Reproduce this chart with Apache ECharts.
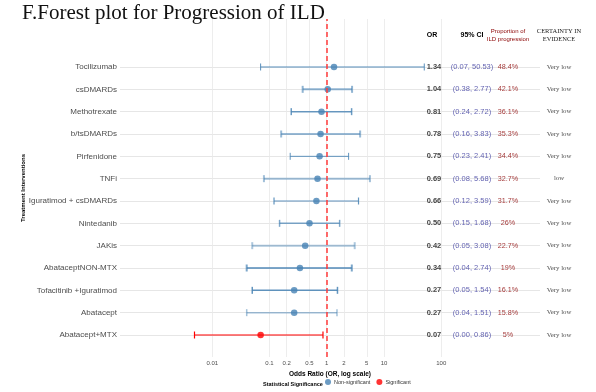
<!DOCTYPE html>
<html>
<head>
<meta charset="utf-8">
<script src="https://cdn.jsdelivr.net/npm/echarts@6/dist/echarts.min.js"></script>
<style>
  html, body { margin: 0; padding: 0; background: #fff; }
  #main { width: 596px; height: 392px; }
</style>
</head>
<body>
<div id="main"></div>
<script>
// rows listed top to bottom, as in the figure
var treatments = ['Tocilizumab', 'csDMARDs', 'Methotrexate', 'b/tsDMARDs', 'Pirfenidone', 'TNFi',
  'Iguratimod + csDMARDs', 'Nintedanib', 'JAKis', 'AbataceptNON-MTX', 'Tofacitinib +Iguratimod',
  'Abatacept', 'Abatacept+MTX'];
var oddsRatio = [1.34, 1.04, 0.81, 0.78, 0.75, 0.69, 0.66, 0.50, 0.42, 0.34, 0.27, 0.27, 0.07];
var ciLower = [0.07, 0.38, 0.24, 0.16, 0.23, 0.08, 0.12, 0.15, 0.05, 0.04, 0.05, 0.04, 0.0049];
var ciUpper = [50.53, 2.77, 2.72, 3.83, 2.41, 5.68, 3.59, 1.68, 3.08, 2.74, 1.54, 1.51, 0.86];
var progression = ['48.4%', '42.1%', '36.1%', '35.3%', '34.4%', '32.7%', '31.7%', '26%', '22.7%',
  '19%', '16.1%', '15.8%', '5%'];
var certainty = ['Very low', 'Very low', 'Very low', 'Very low', 'Very low', 'low', 'Very low',
  'Very low', 'Very low', 'Very low', 'Very low', 'Very low', 'Very low'];
var significant = [false, false, false, false, false, false, false, false, false, false, false, false, true];
var xTicks = [0.01, 0.1, 0.2, 0.5, 1, 2, 5, 10, 100];

// look of each CI bar (opacity / width)
var barAlpha = [0.9, 0.6, 0.8, 0.55, 0.85, 0.5, 0.85, 0.7, 0.45, 0.7, 0.85, 0.5, 1];
var barWidth = [1, 2, 1.5, 2, 1, 2, 1.2, 1.5, 2, 2, 1.5, 1.5, 1.2];

var BLUE = '#4682B4', RED = '#FF0000';
var SANS = '"Liberation Sans", Arial, sans-serif';
var SERIF = '"Liberation Serif", "DejaVu Serif", serif';

var n = treatments.length;
function rowOf(i) { return n - 1 - i; }
function lg(v) { return Math.log10(v); }

var barData = [], nsPts = [], sPts = [], orText = [], ciText = [], propText = [], certText = [];
treatments.forEach(function (t, i) {
  var r = rowOf(i);
  barData.push([lg(ciLower[i]), lg(ciUpper[i]), r, i]);
  (significant[i] ? sPts : nsPts).push([lg(oddsRatio[i]), r]);
  orText.push({ value: [1.873, r], label: { formatter: oddsRatio[i].toFixed(2) } });
  ciText.push({ value: [2.537, r], label: { formatter: '(' + ciLower[i].toFixed(2) + ', ' + ciUpper[i].toFixed(2) + ')' } });
  propText.push({ value: [3.166, r], label: { formatter: progression[i] } });
  certText.push({ value: [4.057, r], label: { formatter: certainty[i] } });
});

function textSeries(data, style) {
  return {
    type: 'scatter', data: data, symbolSize: 0, clip: false, silent: true,
    label: Object.assign({ show: true, position: 'inside', align: 'center', verticalAlign: 'middle' }, style)
  };
}

var myChart = echarts.init(document.getElementById('main'));
var option = {
  animation: false,
  grid: { left: 120, right: 56, top: 19, bottom: 35 },
  xAxis: {
    type: 'value', min: -3.611, max: 3.725,
    name: 'Odds Ratio (OR, log scale)', nameLocation: 'middle', nameGap: 12,
    nameTextStyle: { fontFamily: SANS, fontSize: 6.5, fontWeight: 'bold', color: '#000' },
    axisLine: { show: false },
    axisTick: { show: false, customValues: xTicks.map(lg) },
    axisLabel: {
      customValues: xTicks.map(lg), margin: 3, fontFamily: SANS, fontSize: 6, color: '#4d4d4d',
      formatter: function (v) { return String(+Math.pow(10, v).toPrecision(2)); }
    },
    splitLine: { show: true, lineStyle: { color: '#e8e8e8', width: 0.8 } }
  },
  yAxis: {
    type: 'value', min: -0.985, max: 14.149,
    name: 'Treatment Interventions', nameLocation: 'middle', nameGap: 94, nameRotate: 90,
    nameMoveOverlap: false,
    nameTextStyle: { fontFamily: SANS, fontSize: 6, fontWeight: 'bold', color: '#000' },
    axisLine: { show: false },
    axisTick: { show: false, customValues: treatments.map(function (t, i) { return rowOf(i); }) },
    axisLabel: {
      customValues: treatments.map(function (t, i) { return rowOf(i); }),
      margin: 3, fontFamily: SANS, fontSize: 8, color: '#4d4d4d',
      formatter: function (v) { return treatments[n - 1 - Math.round(v)]; }
    },
    splitLine: { show: true, lineStyle: { color: '#e6e6e6', width: 1 } }
  },
  legend: {
    left: 320, bottom: 2, itemWidth: 6, itemHeight: 6, itemGap: 6,
    icon: 'circle', textStyle: { fontFamily: SANS, fontSize: 5.5, color: '#333', padding: [0, 0, 0, -2] },
    data: ['Non-significant', 'Significant']
  },
  graphic: [
    { type: 'text', left: 22, top: 3, style: { text: 'F.Forest plot for Progression of ILD', font: '21px ' + SERIF, fill: '#111' } },
    { type: 'text', left: 263, top: 381, style: { text: 'Statistical Significance', font: 'bold 5.5px ' + SANS, fill: '#000' } },
    { type: 'text', x: 432, y: 35, style: { text: 'OR', font: 'bold 7px ' + SANS, fill: '#000', align: 'center', verticalAlign: 'middle' } },
    { type: 'text', x: 472, y: 35, style: { text: '95% CI', font: 'bold 7px ' + SANS, fill: '#000', align: 'center', verticalAlign: 'middle' } },
    { type: 'text', x: 508, y: 35, style: { text: 'Proportion of\nILD progression', font: '6px ' + SANS, fill: '#8b0000', align: 'center', verticalAlign: 'middle', lineHeight: 8 } },
    { type: 'text', x: 559, y: 35, style: { text: 'CERTAINTY IN\nEVIDENCE', font: '6.5px ' + SERIF, fill: '#222', align: 'center', verticalAlign: 'middle', lineHeight: 8 } }
  ],
  series: [
    {
      type: 'custom', name: 'ci', silent: true, data: barData,
      renderItem: function (params, api) {
        var i = api.value(3);
        var a = api.coord([api.value(0), api.value(2)]);
        var b = api.coord([api.value(1), api.value(2)]);
        var style = { stroke: significant[i] ? RED : BLUE, lineWidth: barWidth[i], opacity: barAlpha[i] };
        return {
          type: 'group', children: [
            { type: 'line', shape: { x1: a[0], y1: a[1], x2: b[0], y2: b[1] }, style: style },
            { type: 'line', shape: { x1: a[0], y1: a[1] - 3.5, x2: a[0], y2: a[1] + 3.5 }, style: style },
            { type: 'line', shape: { x1: b[0], y1: b[1] - 3.5, x2: b[0], y2: b[1] + 3.5 }, style: style }
          ]
        };
      },
      markLine: {
        silent: true, symbol: 'none', label: { show: false },
        lineStyle: { color: '#ff3b3b', type: [5, 3], width: 1.5 },
        data: [{ xAxis: 0 }]
      }
    },
    { type: 'scatter', name: 'Non-significant', data: nsPts, symbolSize: 6.5, itemStyle: { color: BLUE } },
    { type: 'scatter', name: 'Significant', data: sPts, symbolSize: 6.5, itemStyle: { color: RED } },
    textSeries(orText, { fontFamily: SANS, fontSize: 7.5, fontWeight: 'bold', color: '#111' }),
    textSeries(ciText, { fontFamily: SANS, fontSize: 7.5, color: '#3a3a9e' }),
    textSeries(propText, { fontFamily: SANS, fontSize: 7.2, color: '#8b0000' }),
    textSeries(certText, { fontFamily: SERIF, fontSize: 6.8, color: '#222' })
  ]
};
myChart.setOption(option);
</script>
</body>
</html>
